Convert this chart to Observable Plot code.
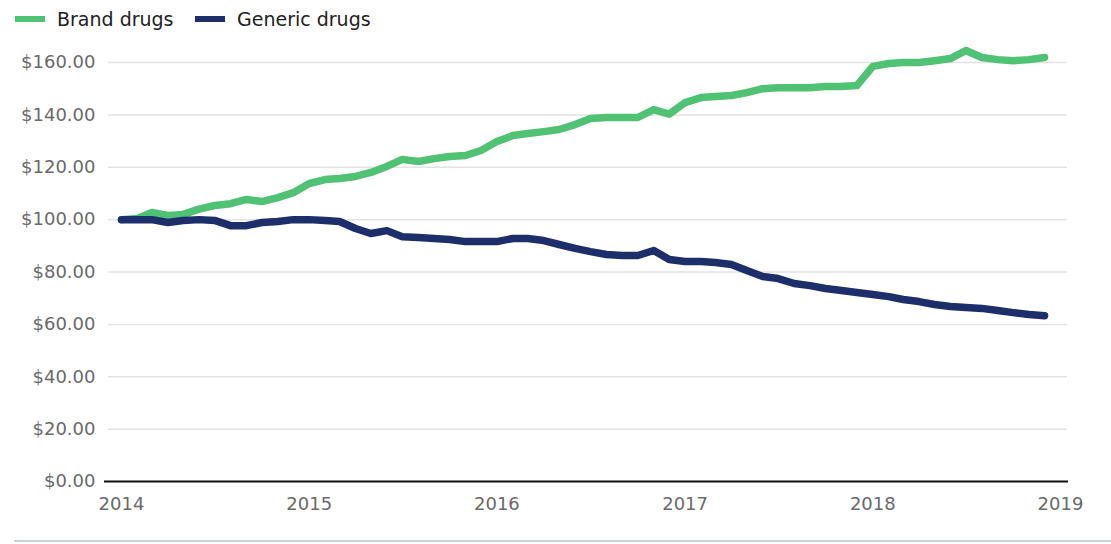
<!DOCTYPE html>
<html>
<head>
<meta charset="utf-8">
<script src="https://cdn.jsdelivr.net/npm/d3@7"></script>
<script src="https://cdn.jsdelivr.net/npm/@observablehq/plot@0.6"></script>
<style>
  html, body { margin: 0; padding: 0; background: #fff; overflow: hidden; }
  body { width: 1111px; height: 544px; position: relative; font-family: "DejaVu Sans", sans-serif; }
  #legend { height: 38px; position: relative; }
  .item { position: absolute; top: 8px; display: flex; align-items: center; font-size: 19px; color: #222; }
  .sw { width: 30px; height: 6px; margin-right: 12px; }
  #chart { height: 500px; }
  #border { position: absolute; left: 14px; right: 0; top: 540px; height: 2px; background: #c9d1dc; }
</style>
</head>
<body>
<div id="legend"></div>
<div id="chart"></div>
<div id="border"></div>
<script>
const seriesNames = ["Brand drugs", "Generic drugs"];
const seriesColors = ["#50c273", "#1c2f6a"];
const startMonth = "2014-01-01";
const brand = [100.0, 100.4, 102.7, 101.6, 102.0, 104.0, 105.4, 106.1, 107.7, 106.9, 108.4, 110.3,
  113.8, 115.3, 115.7, 116.5, 118.0, 120.3, 123.0, 122.2, 123.3, 124.1, 124.5, 126.4,
  129.8, 132.1, 132.9, 133.6, 134.4, 136.3, 138.6, 139.0, 139.0, 139.0, 142.0, 140.3,
  144.7, 146.6, 147.0, 147.4, 148.5, 150.0, 150.4, 150.4, 150.4, 150.8, 150.8, 151.2,
  158.5, 159.6, 160.0, 160.0, 160.7, 161.5, 164.6, 161.9, 161.1, 160.7, 161.1, 161.9];
const generic = [100.0, 100.0, 100.0, 98.9, 99.7, 100.0, 99.7, 97.7, 97.7, 98.9, 99.3, 100.0,
  100.0, 99.7, 99.3, 96.6, 94.7, 95.8, 93.5, 93.2, 92.8, 92.4, 91.6, 91.6,
  91.6, 92.8, 92.8, 92.0, 90.5, 89.0, 87.8, 86.7, 86.3, 86.3, 88.2, 84.8,
  84.0, 84.0, 83.6, 82.9, 80.6, 78.3, 77.5, 75.6, 74.8, 73.7, 72.9, 72.2,
  71.4, 70.6, 69.5, 68.7, 67.6, 66.8, 66.4, 66.1, 65.3, 64.5, 63.8, 63.3];
const yTicks = [0, 20, 40, 60, 80, 100, 120, 140, 160];
const xTickYears = ["2014", "2015", "2016", "2017", "2018", "2019"];

const months = d3.utcMonth.range(new Date(startMonth), d3.utcMonth.offset(new Date(startMonth), brand.length));
const data = [];
[brand, generic].forEach((vals, s) => vals.forEach((v, i) => data.push({series: seriesNames[s], date: months[i], value: v})));

const legend = document.getElementById("legend");
const legendX = [15, 195];
seriesNames.forEach((n, i) => {
  const d = document.createElement("div");
  d.className = "item";
  d.style.left = legendX[i] + "px";
  d.innerHTML = `<span class="sw" style="background:${seriesColors[i]}"></span><span>${n}</span>`;
  legend.appendChild(d);
});

const chart = Plot.plot({
  width: 1111,
  height: 500,
  marginLeft: 121,
  marginRight: 51,
  marginTop: 24,
  marginBottom: 57,
  style: {fontFamily: "'DejaVu Sans', sans-serif", fontSize: "18px", color: "#6a6a6a", background: "#fff"},
  x: {type: "utc", domain: [new Date("2014-01-01"), new Date("2019-01-01")], ticks: xTickYears.map(y => new Date(y + "-01-01")), tickFormat: d3.utcFormat("%Y"), tickSize: 0, tickPadding: 16, label: null},
  y: {domain: [0, 160], ticks: yTicks, tickFormat: d => "$" + d3.format(",.2f")(d), tickSize: 0, tickPadding: 26, label: null},
  color: {domain: seriesNames, range: seriesColors},
  marks: [
    Plot.ruleY(yTicks.filter(t => t > 0), {stroke: "#e3e3e3", strokeWidth: 1.5, insetLeft: -13, insetRight: -7}),
    Plot.ruleY([0], {stroke: "#111", strokeWidth: 2, insetLeft: -17, insetRight: -8}),
    Plot.line(data, {x: "date", y: "value", z: "series", stroke: "series", strokeWidth: 7.5, strokeLinejoin: "round", strokeLinecap: "round"})
  ]
});
document.getElementById("chart").appendChild(chart);
</script>
</body>
</html>
